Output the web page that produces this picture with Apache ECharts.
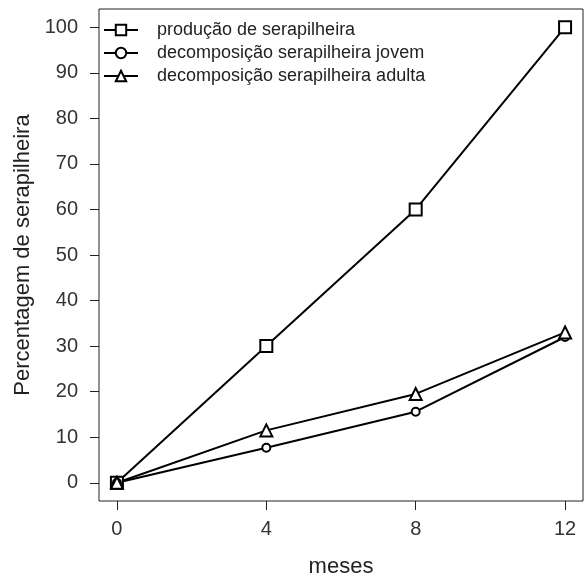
<!DOCTYPE html>
<html lang="pt">
<head>
  <meta charset="UTF-8">
  <title>serapilheira</title>
  <style>
    html, body { margin: 0; padding: 0; background: #fff; }
    #chart { width: 584px; height: 578px; }
  </style>
</head>
<body>
  <div id="chart"></div>
  <script src="https://cdn.jsdelivr.net/npm/echarts@6/dist/echarts.min.js"></script>
  <script>
    // dados
    var meses = [0, 4, 8, 12];
    var producao = [0, 30, 60, 100];
    var decompJovem = [0, 7.7, 15.6, 32];
    var decompAdulta = [0, 11.5, 19.5, 33];
    var xTicks = [0, 4, 8, 12];
    var yTicks = [0, 10, 20, 30, 40, 50, 60, 70, 80, 90, 100];

    var nomes = [
      'produção de serapilheira',
      'decomposição serapilheira jovem',
      'decomposição serapilheira adulta'
    ];

    function pares(ys) {
      return meses.map(function (m, i) { return [m, ys[i]]; });
    }

    var font = 'Liberation Sans, Arial, sans-serif';

    function serie(nome, ys, simbolo, tam) {
      return {
        name: nome,
        type: 'line',
        data: pares(ys),
        symbol: simbolo,
        symbolSize: tam,
        showAllSymbol: true,
        animation: false,
        lineStyle: { color: '#000', width: 2 },
        itemStyle: { color: '#000', borderColor: '#000', borderWidth: 2 }
      };
    }

    var chart = echarts.init(document.getElementById('chart'));
    chart.setOption({
      animation: false,
      grid: {
        left: 99, right: 1, top: 9, bottom: 77,
        outerBoundsMode: 'none',
        containLabel: false,
        show: true, borderColor: '#222', borderWidth: 1
      },
      legend: {
        orient: 'vertical',
        left: 103, top: 21,
        padding: 0,
        itemWidth: 34, itemHeight: 13, itemGap: 5,
        data: nomes,
        lineStyle: { width: 2 },
        textStyle: {
          fontFamily: font, fontSize: 18, color: '#222',
          padding: [0, 0, 0, 14]
        }
      },
      xAxis: {
        type: 'value',
        min: -0.48, max: 12.48,
        name: 'meses',
        nameLocation: 'middle',
        nameGap: 55,
        nameTextStyle: { fontFamily: font, fontSize: 22, color: '#222' },
        axisLine: { show: false, onZero: false },
        axisTick: { show: true, length: 9, customValues: xTicks, lineStyle: { color: '#222' } },
        axisLabel: { customValues: xTicks, margin: 18, fontFamily: font, fontSize: 20, color: '#333' },
        splitLine: { show: false }
      },
      yAxis: {
        type: 'value',
        min: -4, max: 104,
        name: 'Percentagem de serapilheira',
        nameLocation: 'middle',
        nameGap: 63,
        nameTextStyle: { fontFamily: font, fontSize: 22, color: '#222' },
        axisLine: { show: false, onZero: false },
        axisTick: { show: true, length: 9, customValues: yTicks, lineStyle: { color: '#222' } },
        axisLabel: { customValues: yTicks, margin: 21, fontFamily: font, fontSize: 20, color: '#333' },
        splitLine: { show: false }
      },
      series: [
        serie(nomes[0], producao, 'emptyRect', 12),
        serie(nomes[1], decompJovem, 'emptyCircle', 8),
        serie(nomes[2], decompAdulta, 'emptyTriangle', 12)
      ]
    });
  </script>
</body>
</html>
